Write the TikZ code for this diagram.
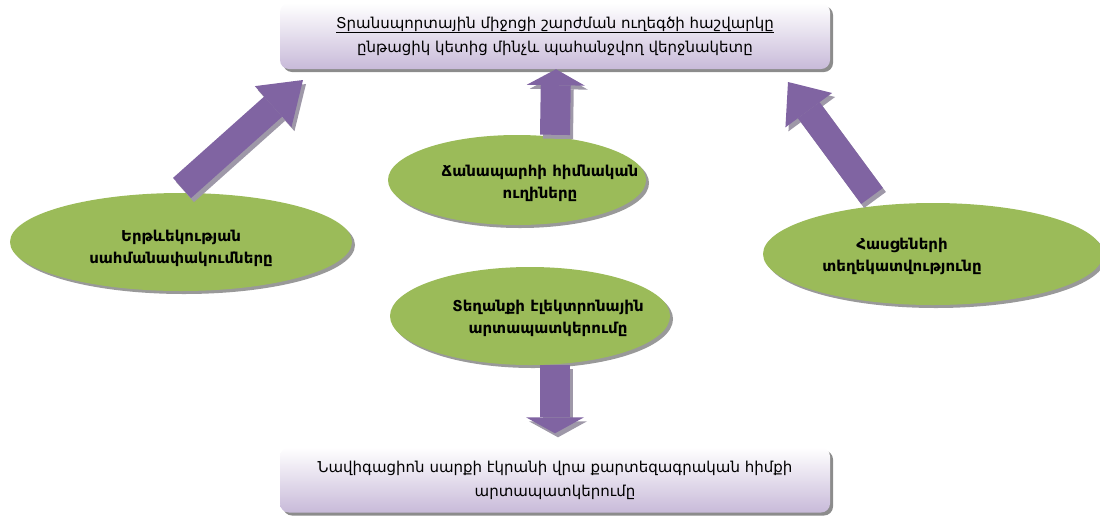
\documentclass[tikz,border=0pt]{standalone}
\usepackage{fontspec}
\setmainfont{DejaVu Sans}
\usetikzlibrary{shapes.geometric,shadows,arrows.meta,positioning}
\definecolor{leaf}{HTML}{9BBB59}
\definecolor{plum}{HTML}{8064A2}
\definecolor{plumshade}{HTML}{9E98A8}
\definecolor{lilac}{HTML}{C8BAD9}
% text set off the node centre by (#1, #2 down)
\newcommand\offtext[3]{\makebox[0pt]{\hspace*{#1}\raisebox{\dimexpr-#2-3.75pt\relax}[0pt][0pt]{\begin{tabular}{@{}c@{}}#3\end{tabular}}}}
\begin{document}
\begin{tikzpicture}[x=1pt, y=-1pt,
    every node/.style={align=center, inner sep=0pt},
    goal/.style={rounded corners=9pt, top color=white, bottom color=lilac, minimum width=550pt, font=\fontsize{15}{24}\selectfont, drop shadow={shadow xshift=3pt, shadow yshift=-3pt, fill=black!45, opacity=1}},
    topic/.style={ellipse, fill=leaf, font=\bfseries\fontsize{15}{22}\selectfont, drop shadow={shadow xshift=3pt, shadow yshift=-3pt, fill=black!40, opacity=1}},
    push/.style={draw=plum, line width=#1},
    pushshade/.style={draw=plumshade, line width=#1, transform canvas={xshift=3pt, yshift=-4pt}},
    upright/.style={-{Triangle[width=58pt, length=16pt, line width=0pt]}}]
  \useasboundingbox (0,0) rectangle (1100,515);
  % targets
  \node[goal, minimum height=66pt] (calc) at (555,36) {\underline{Տրանսպորտային միջոցի շարժման ուղեգծի հաշվարկը}\\ընթացիկ կետից մինչև պահանջվող վերջնակետը};
  \node[goal, minimum height=65pt] (screen) at (555,480) {Նավիգացիոն սարքի էկրանի վրա քարտեզագրական հիմքի\\արտապատկերումը};
  % inputs
  \node[topic, minimum width=342pt, minimum height=98pt] (limits) at (181,242) {\offtext{0pt}{6pt}{Երթևեկության\\սահմանափակումները}};
  \node[topic, minimum width=258pt, minimum height=90pt] (road) at (517,180) {\offtext{46pt}{3pt}{Ճանապարհի հիմնական\\ուղիները}};
  \node[topic, minimum width=340pt, minimum height=102pt] (address) at (933,254) {\offtext{-62pt}{2pt}{Հասցեների\\տեղեկատվությունը}};
  \node[topic, minimum width=280pt, minimum height=98pt] (terrain) at (530,316) {\offtext{36pt}{2pt}{Տեղանքի էլեկտրոնային\\արտապատկերումը}};
  % arrow ends
  \coordinate (limitsout) at (182,188);
  \coordinate (limitsin) at (303,80);
  \coordinate (addressout) at (872,196);
  \coordinate (addressin) at (788,82);
  \coordinate (screenin) at ([yshift=14pt]screen.north);
  % arrows
  \foreach \style/\w in {pushshade/30pt, push/30pt} {
    \draw[\style=\w, upright] ([xshift=38pt]road.north) -- ([xshift=1pt]calc.south);
    \draw[\style=\w, upright] ([xshift=25pt]terrain.south) -- (screenin);
  }
  \foreach \style/\w in {pushshade/27pt, push/27pt} {
    \draw[\style=\w, -{Triangle[width=55pt, length=40pt, line width=0pt]}] (limitsout) -- (limitsin);
    \draw[\style=\w, -{Triangle[width=58pt, length=35pt, line width=0pt]}] (addressout) -- (addressin);
  }
\end{tikzpicture}
\end{document}
